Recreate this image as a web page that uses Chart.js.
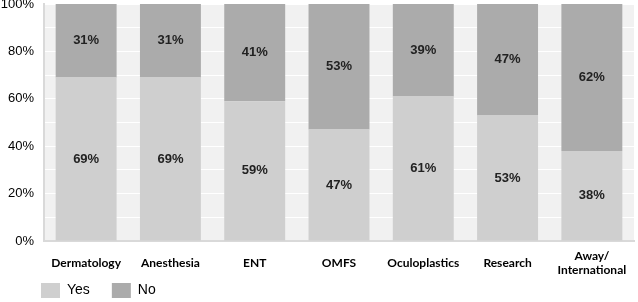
<!DOCTYPE html>
<html>
<head>
<meta charset="utf-8">
<script src="https://cdn.jsdelivr.net/npm/chart.js@4"></script>
<style>
  html, body { margin: 0; padding: 0; background: #fff; }
  #wrap { width: 638px; height: 302px; }
</style>
</head>
<body>
<div id="wrap"><canvas id="chart" width="638" height="302"></canvas></div>
<script>
const categories = ['Dermatology', 'Anesthesia', 'ENT', 'OMFS', 'Oculoplastics', 'Research', ['Away/', 'International']];
const yesValues = [69, 69, 59, 47, 61, 53, 38];
const noValues = [31, 31, 41, 53, 39, 47, 62];
const yTicks = [0, 20, 40, 60, 80, 100];

// light grey plot background
const plotBg = {
    id: 'plotBg',
    beforeDraw(chart) {
        const a = chart.chartArea;
        const ctx = chart.ctx;
        ctx.save();
        ctx.fillStyle = '#f1f1f1';
        ctx.fillRect(a.left, a.top, a.right - a.left, a.bottom - a.top);
        ctx.restore();
    }
};

// move the legend under the plot, like the original
const legendSpot = {
    id: 'legendSpot',
    afterLayout(chart) {
        chart.legend.left = 19;
        chart.legend.top = 261;
    }
};

// percent labels in the middle of each segment
const segLabels = {
    id: 'segLabels',
    afterDatasetsDraw(chart) {
        const ctx = chart.ctx;
        ctx.save();
        ctx.font = 'bold 13px "Liberation Sans", Arial, sans-serif';
        ctx.fillStyle = '#222';
        ctx.textAlign = 'center';
        ctx.textBaseline = 'middle';
        chart.data.datasets.forEach((ds, i) => {
            chart.getDatasetMeta(i).data.forEach((bar, j) => {
                const mid = (bar.y + bar.base) / 2;
                ctx.fillText(ds.data[j] + '%', bar.x, mid);
            });
        });
        ctx.restore();
    }
};

new Chart(document.getElementById('chart').getContext('2d'), {
    type: 'bar',
    data: {
        labels: categories,
        datasets: [{
            label: 'Yes',
            data: yesValues,
            backgroundColor: '#cfcfcf',
            borderWidth: 0
        }, {
            label: 'No',
            data: noValues,
            backgroundColor: '#ababab',
            borderWidth: 0
        }]
    },
    options: {
        responsive: false,
        animation: false,
        layout: { padding: { left: 0, right: 4, top: 4, bottom: -26 } },
        datasets: { bar: { categoryPercentage: 1, barPercentage: 0.723 } },
        scales: {
            x: {
                stacked: true,
                grid: { display: false, drawTicks: false },
                border: { color: '#d9d9d9', width: 2 },
                ticks: {
                    color: '#000',
                    padding: 15,
                    crossAlign: 'center',
                    maxRotation: 0,
                    autoSkip: false,
                    font: { family: 'Lato', weight: 'bold', size: 12, lineHeight: 1.17 }
                },
                afterFit(scale) {
                    scale.height = 40;
                    scale.paddingLeft = 0;
                    scale.paddingRight = 0;
                }
            },
            y: {
                stacked: true,
                min: 0,
                max: 100,
                grid: { color: '#ffffff', lineWidth: 1, drawTicks: false },
                border: { color: '#d9d9d9', width: 2 },
                ticks: {
                    stepSize: 10,
                    padding: 10,
                    color: '#000',
                    font: { family: '"Liberation Sans", Arial, sans-serif', size: 13 },
                    callback: v => yTicks.includes(v) ? v + '%' : ''
                },
                afterFit(scale) {
                    scale.width = 44;
                    scale.paddingTop = 0;
                    scale.paddingBottom = 0;
                }
            }
        },
        plugins: {
            legend: {
                position: 'bottom',
                align: 'start',
                labels: {
                    boxWidth: 19,
                    boxHeight: 15,
                    padding: 22,
                    color: '#000',
                    font: { family: '"Liberation Sans", Arial, sans-serif', size: 14 }
                }
            },
            tooltip: { enabled: false }
        }
    },
    plugins: [plotBg, legendSpot, segLabels]
});
</script>
</body>
</html>
